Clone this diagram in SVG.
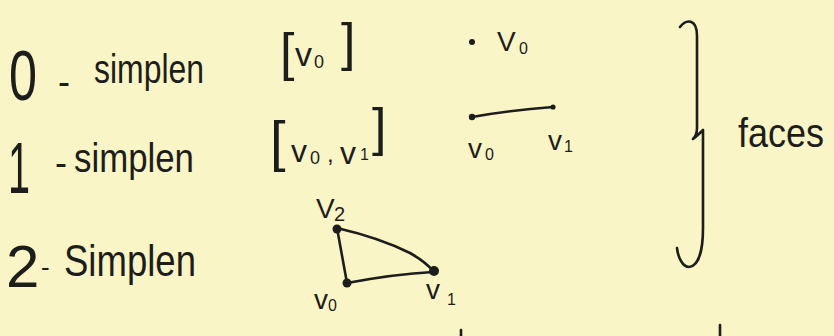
<svg xmlns="http://www.w3.org/2000/svg" width="834" height="336" viewBox="0 0 834 336">
<style>
text{font-family:"Liberation Sans","DejaVu Sans",sans-serif;fill:#1d1d1b}
.ln{fill:none;stroke:#1d1d1b;stroke-width:2.6;stroke-linecap:round;stroke-linejoin:round}
.dot{fill:#1d1d1b}
.sub{font-size:16px}
.lab{font-size:28px}
</style>
<rect width="834" height="336" fill="#faf5c6"/>
<g id="row0">
<text x="9" y="100" font-size="70" textLength="28" lengthAdjust="spacingAndGlyphs">0</text>
<text x="58" y="94" font-size="36">-</text>
<text x="94" y="83" font-size="40" textLength="110" lengthAdjust="spacingAndGlyphs">simplen</text>
</g>
<g id="row1">
<text x="8" y="193" font-size="72" textLength="22" lengthAdjust="spacingAndGlyphs">1</text>
<text x="55" y="175" font-size="36">-</text>
<text x="74" y="172" font-size="40" textLength="120" lengthAdjust="spacingAndGlyphs">simplen</text>
</g>
<g id="row2">
<text x="6" y="287" font-size="60">2</text>
<text x="41" y="276" font-size="26">-</text>
<text x="64" y="276" font-size="44" textLength="132" lengthAdjust="spacingAndGlyphs">Simplen</text>
</g>
<g id="bracket0">
<text x="280" y="70" font-size="52">[</text>
<text x="295" y="66" font-size="34">v</text>
<text x="314" y="68" font-size="18">0</text>
<text x="341" y="60" font-size="52">]</text>
</g>
<g id="bracket1">
<text x="270" y="160" font-size="56">[</text>
<text x="291" y="162" font-size="32">v</text>
<text x="310" y="164" font-size="18">0</text>
<text x="327" y="162" font-size="24">,</text>
<text x="340" y="164" font-size="32">v</text>
<text x="360" y="160" font-size="16">1</text>
<text x="372" y="145" font-size="52">]</text>
</g>
<g id="point">
<circle cx="472" cy="42" r="3" class="dot"/>
<text x="497" y="51" class="lab">V</text>
<text x="519" y="54" class="sub">0</text>
</g>
<g id="segment">
<path class="ln" d="M472,117 Q512,110 553,107"/>
<circle cx="472" cy="117" r="3.2" class="dot"/>
<circle cx="553" cy="107" r="2.6" class="dot"/>
<text x="468" y="158" class="lab" font-size="24">v</text>
<text x="485" y="160" class="sub">0</text>
<text x="548" y="150" class="lab" font-size="24">v</text>
<text x="564" y="152" class="sub">1</text>
</g>
<g id="triangle">
<path class="ln" d="M337,228 L347,283"/>
<path class="ln" d="M337,228 Q380,238 410,253 Q426,262 433,271"/>
<path class="ln" d="M347,283 Q395,274 433,272"/>
<circle cx="337" cy="229" r="4.5" class="dot"/>
<circle cx="347" cy="283" r="4.5" class="dot"/>
<circle cx="434" cy="271" r="5" class="dot"/>
<text x="316" y="218" class="lab">V</text>
<text x="334" y="221" font-size="20">2</text>
<text x="314" y="309" class="lab" font-size="24">v</text>
<text x="328" y="311" class="sub">0</text>
<text x="426" y="299" class="lab" font-size="24">v</text>
<text x="447" y="305" class="sub">1</text>
</g>
<g id="brace">
<path class="ln" d="M680,27 C686,19 697,18 697,36 L697,128 C697,133 695,137 693,139 C697,136 700,133 703,130 L703,228 C703,252 698,266 689,267 C683,267 678,258 677,248"/>
</g>
<g id="label-faces">
<text x="738" y="147" font-size="40" textLength="86" lengthAdjust="spacingAndGlyphs">faces</text>
</g>
<g id="connectors"></g>
<g id="marks">
<path class="ln" d="M461,330 L461,336"/>
<path class="ln" d="M720,325 L720,336"/>
</g>
</svg>
